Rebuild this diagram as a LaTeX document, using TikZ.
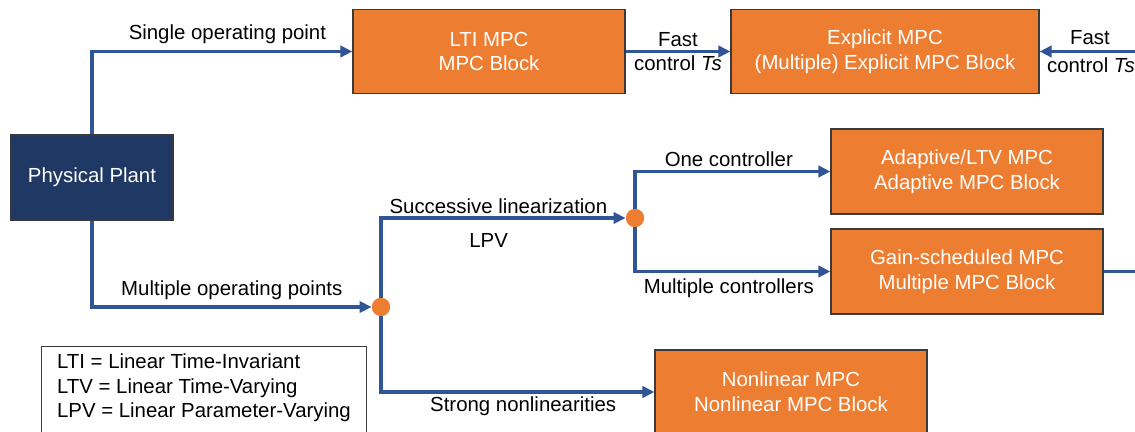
\documentclass[tikz,border=0pt]{standalone}
\usepackage{fontspec}
\setmainfont{Liberation Sans}
\usetikzlibrary{arrows.meta}
\definecolor{mpcorange}{HTML}{ED7D31}
\definecolor{plantblue}{HTML}{1F3864}
\definecolor{flowblue}{HTML}{2F5597}
\definecolor{boxedge}{HTML}{3A3A3A}
\tikzset{
  txt/.style={font=\fontsize{14.5}{17.5}\selectfont},
  mpc/.style={txt, draw=boxedge, line width=0.8pt, fill=mpcorange, text=white, align=center,
    minimum width=6.8cm, minimum height=2.1cm, inner sep=0pt},
  junction/.style={circle, fill=mpcorange, minimum size=0.46cm, inner sep=0pt},
  flow/.style={draw=flowblue, line width=2.4pt, -{Triangle[length=8.5pt,width=8pt]}},
  lbl/.style={txt, inner sep=2pt},
}
\begin{document}
\begin{tikzpicture}[x=0.025cm,y=-0.025cm]
    \clip (0,0) rectangle (1135,432);
    \node [mpc, fill=plantblue, minimum width=4.05cm, minimum height=2.125cm] (plant) at (92,177.5) {Physical Plant};
    \node [mpc] (lti) at (489,51.5) {LTI MPC\\MPC Block};
    \node [mpc, minimum width=7.7cm] (expl) at (885,51.5) {Explicit MPC\\(Multiple) Explicit MPC Block};
    \node [mpc, minimum height=2.125cm] (adapt) at (967,171.5) {Adaptive/LTV MPC\\Adaptive MPC Block};
    \node [mpc, minimum height=2.125cm] (gain) at (967,271.5) {Gain-scheduled MPC\\Multiple MPC Block};
    \node [mpc] (nonlin) at (791,392) {Nonlinear MPC\\Nonlinear MPC Block};
    \node [junction] (d1) at (381,307) {};
    \node [junction] (d2) at (635,218) {};
    \coordinate (rin) at (1140,51.5);
    \coordinate (rout) at (1140,271.5);
    \draw [flow] (plant.north) |- node[lbl, above=2pt, pos=0.76] {Single operating point} (lti.west);
    \draw [flow] (lti.east) -- node[lbl, above] {Fast} node[lbl, below] {control \textit{Ts}} (expl.west);
    \draw [flow] (rin) -- (expl.east);
    \node [lbl, anchor=south west] (fast2) at (1067,48) {Fast};
    \node [lbl, anchor=north west] (ctrl2) at (1044,55) {control \textit{Ts}};
    \draw [flow] (plant.south) |- node[lbl, above=2pt, pos=0.75] {Multiple operating points} (d1);
    \draw [flow] (d1) |- node[lbl, above, pos=0.74] {Successive linearization} node[lbl, below=8pt, pos=0.72] {LPV} (d2);
    \draw [flow] (d1) |- node[lbl, below, pos=0.76] {Strong nonlinearities} (nonlin.west);
    \draw [flow] (d2) |- node[lbl, above, pos=0.74] {One controller} (adapt.west);
    \draw [flow] (d2) |- node[lbl, below=2pt, pos=0.74] {Multiple controllers} (gain.west);
    \draw [flow, -] (gain.east) -- (rout);
    \node [txt, draw=boxedge, line width=0.6pt, anchor=north west, align=left, minimum width=8.125cm,
      minimum height=2.4cm, text depth=12pt, inner xsep=9pt, inner ysep=3pt] (legend) at (41,346)
      {LTI = Linear Time-Invariant\\LTV = Linear Time-Varying\\LPV = Linear Parameter-Varying};
\end{tikzpicture}
\end{document}
